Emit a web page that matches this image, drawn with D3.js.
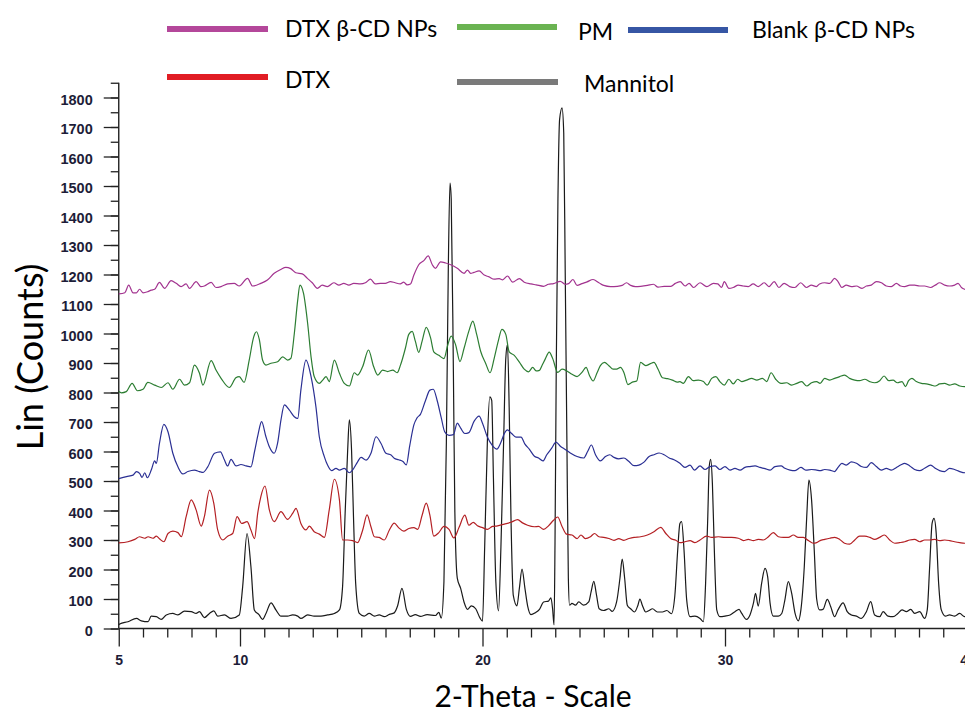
<!DOCTYPE html>
<html>
<head>
<meta charset="utf-8">
<script src="https://cdn.jsdelivr.net/npm/d3@7/dist/d3.min.js"></script>
<style>
  body { margin: 0; background: #fff; }
  svg { display: block; }
</style>
</head>
<body>
<svg id="chart" width="965" height="714"></svg>
<script>
// ---- series (2θ in degrees, intensity in counts, offsets included) ----
const seriesNames = ["DTX β-CD NPs", "PM", "Blank β-CD NPs", "DTX", "Mannitol"];

const dtxCdNps = [[5.0,1134],[5.25,1138],[5.41,1164],[5.59,1138],[5.73,1138],[5.86,1150],[6.0,1138],[6.2,1142],[6.34,1147],[6.48,1150],[6.68,1173],[6.89,1153],[7.16,1179],[7.37,1170],[7.57,1159],[7.78,1168],[7.92,1153],[8.19,1176],[8.39,1159],[8.53,1161],[8.81,1173],[9.01,1156],[9.22,1159],[9.49,1168],[9.76,1170],[9.97,1161],[10.31,1187],[10.52,1161],[10.86,1170],[11.13,1181],[11.41,1204],[11.68,1217],[11.89,1224],[12.09,1220],[12.30,1206],[12.57,1202],[12.78,1187],[12.98,1172],[13.19,1153],[13.39,1164],[13.60,1159],[13.87,1172],[14.08,1164],[14.28,1170],[14.49,1164],[14.69,1170],[14.97,1168],[15.17,1172],[15.38,1184],[15.58,1168],[15.79,1170],[15.99,1170],[16.20,1176],[16.40,1172],[16.61,1168],[16.75,1174],[16.89,1165],[17.03,1168],[17.17,1198],[17.37,1233],[17.58,1247],[17.76,1263],[17.93,1233],[18.06,1221],[18.27,1243],[18.48,1239],[18.69,1233],[18.96,1221],[19.24,1204],[19.38,1215],[19.51,1204],[19.65,1207],[19.86,1212],[20.07,1198],[20.27,1192],[20.48,1184],[20.69,1186],[20.83,1182],[21.03,1195],[21.24,1174],[21.52,1186],[21.72,1174],[22.0,1168],[22.21,1165],[22.52,1160],[22.72,1167],[22.93,1169],[23.21,1177],[23.41,1167],[23.55,1169],[23.73,1183],[23.90,1163],[24.10,1169],[24.31,1175],[24.56,1183],[24.80,1172],[25.0,1163],[25.28,1159],[25.56,1160],[25.76,1163],[25.94,1172],[26.11,1163],[26.31,1159],[26.52,1160],[26.80,1163],[27.05,1167],[27.24,1157],[27.49,1160],[27.77,1160],[27.95,1170],[28.15,1176],[28.36,1161],[28.52,1170],[28.70,1156],[28.97,1172],[29.25,1159],[29.52,1170],[29.70,1168],[29.86,1156],[29.97,1176],[30.16,1153],[30.34,1156],[30.55,1164],[30.75,1161],[30.96,1159],[31.16,1168],[31.37,1159],[31.62,1172],[31.81,1159],[32.03,1176],[32.22,1156],[32.44,1170],[32.67,1159],[32.88,1156],[33.12,1172],[33.36,1156],[33.56,1164],[33.77,1159],[33.90,1168],[34.11,1172],[34.32,1170],[34.52,1187],[34.66,1176],[34.82,1156],[35.0,1164],[35.21,1159],[35.42,1161],[35.65,1153],[35.83,1161],[36.03,1164],[36.24,1176],[36.45,1172],[36.65,1161],[36.86,1159],[37.07,1170],[37.24,1161],[37.41,1159],[37.62,1164],[37.82,1164],[38.03,1161],[38.23,1161],[38.48,1156],[38.67,1164],[38.85,1172],[39.06,1164],[39.26,1161],[39.47,1164],[39.61,1170],[39.75,1156],[39.88,1150],[40.0,1148]];

const pm = [[5.0,803],[5.11,799],[5.31,803],[5.55,831],[5.77,806],[6.0,811],[6.2,834],[6.48,825],[6.75,817],[7.03,833],[7.23,811],[7.51,845],[7.71,825],[7.92,833],[8.12,893],[8.33,865],[8.47,825],[8.81,908],[9.01,876],[9.22,848],[9.56,817],[9.83,850],[9.97,854],[10.17,834],[10.38,910],[10.56,987],[10.68,1006],[10.80,978],[10.93,910],[11.07,893],[11.28,899],[11.55,904],[11.76,921],[11.96,910],[12.10,916],[12.24,1000],[12.38,1113],[12.47,1164],[12.62,1136],[12.79,1034],[12.93,921],[13.06,854],[13.27,831],[13.41,842],[13.55,854],[13.68,837],[13.89,910],[14.10,865],[14.30,831],[14.51,822],[14.71,867],[14.85,859],[15.06,888],[15.30,944],[15.51,888],[15.68,859],[15.88,876],[16.09,871],[16.30,876],[16.48,867],[16.61,891],[16.82,950],[16.96,997],[17.10,1007],[17.23,974],[17.37,936],[17.51,974],[17.68,1021],[17.86,985],[17.99,938],[18.20,926],[18.41,915],[18.57,962],[18.71,991],[18.89,962],[19.07,905],[19.24,950],[19.44,1009],[19.60,1042],[19.76,997],[19.93,938],[20.14,897],[20.31,867],[20.48,915],[20.65,974],[20.80,1014],[20.96,997],[21.10,938],[21.31,926],[21.52,903],[21.72,879],[21.90,870],[22.07,885],[22.21,873],[22.35,875],[22.45,891],[22.59,914],[22.75,937],[22.90,914],[23.10,868],[23.28,879],[23.48,873],[23.69,862],[23.90,854],[24.10,868],[24.27,885],[24.42,856],[24.56,839],[24.73,868],[24.86,891],[25.03,902],[25.21,891],[25.39,879],[25.53,879],[25.69,885],[25.83,868],[26.0,827],[26.18,835],[26.36,839],[26.52,902],[26.73,891],[26.91,897],[27.07,902],[27.24,879],[27.42,850],[27.63,847],[27.83,842],[28.04,835],[28.14,837],[28.28,831],[28.49,854],[28.69,840],[28.90,842],[29.11,837],[29.27,825],[29.45,848],[29.62,854],[29.79,837],[29.97,825],[30.16,845],[30.34,829],[30.52,845],[30.69,837],[30.89,842],[31.10,848],[31.31,842],[31.54,848],[31.72,837],[31.90,867],[32.09,845],[32.31,831],[32.54,833],[32.75,825],[32.96,831],[33.16,837],[33.37,822],[33.57,833],[33.78,837],[33.92,831],[34.11,848],[34.32,842],[34.52,848],[34.73,854],[34.93,859],[35.14,848],[35.35,842],[35.55,840],[35.76,845],[35.97,837],[36.17,833],[36.38,840],[36.56,856],[36.75,840],[36.93,842],[37.11,833],[37.30,837],[37.44,820],[37.57,840],[37.71,848],[37.89,837],[38.10,831],[38.30,829],[38.51,825],[38.67,822],[38.85,829],[39.06,831],[39.26,825],[39.47,829],[39.68,822],[39.88,820],[40.0,822]];

const blankCdNps = [[5.0,508],[5.32,515],[5.59,520],[5.73,532],[5.86,526],[5.96,512],[6.07,528],[6.18,511],[6.34,537],[6.48,568],[6.55,560],[6.68,628],[6.86,692],[7.03,667],[7.23,594],[7.44,548],[7.64,524],[7.85,532],[8.12,537],[8.33,532],[8.47,529],[8.67,548],[8.95,594],[9.19,599],[9.36,571],[9.49,551],[9.63,573],[9.84,551],[10.04,556],[10.25,551],[10.45,548],[10.60,600],[10.75,660],[10.89,701],[11.07,650],[11.21,616],[11.41,594],[11.55,628],[11.69,707],[11.83,758],[12.03,741],[12.24,718],[12.38,712],[12.51,808],[12.72,910],[12.93,854],[13.13,752],[13.27,650],[13.48,582],[13.61,554],[13.78,535],[13.96,543],[14.10,537],[14.30,543],[14.51,528],[14.64,537],[14.85,565],[14.99,580],[15.20,571],[15.40,594],[15.61,650],[15.81,628],[16.02,594],[16.23,588],[16.36,577],[16.54,572],[16.72,566],[16.86,555],[17.0,620],[17.17,690],[17.30,714],[17.44,726],[17.65,773],[17.83,808],[17.97,811],[18.13,773],[18.30,714],[18.44,667],[18.62,655],[18.80,657],[18.96,696],[19.10,679],[19.27,661],[19.44,664],[19.65,702],[19.86,720],[20.0,696],[20.20,649],[20.41,620],[20.59,608],[20.76,631],[20.90,661],[21.03,673],[21.20,661],[21.38,649],[21.59,649],[21.75,625],[21.93,608],[22.14,584],[22.31,578],[22.49,568],[22.65,589],[22.86,612],[23.03,632],[23.21,618],[23.41,607],[23.62,595],[23.90,583],[24.17,578],[24.34,601],[24.49,622],[24.66,589],[24.86,568],[25.07,583],[25.25,589],[25.42,580],[25.62,575],[25.83,578],[26.04,566],[26.25,552],[26.45,554],[26.66,564],[26.87,583],[27.07,589],[27.28,595],[27.49,589],[27.70,578],[27.90,572],[28.14,560],[28.35,546],[28.56,554],[28.74,537],[28.97,551],[29.18,539],[29.38,549],[29.59,551],[29.79,539],[30.0,549],[30.21,537],[30.41,543],[30.62,537],[30.82,546],[31.03,549],[31.24,551],[31.44,546],[31.65,542],[31.86,537],[32.06,549],[32.31,551],[32.47,543],[32.68,537],[32.89,535],[33.13,546],[33.33,537],[33.57,539],[33.78,537],[33.92,535],[34.11,539],[34.32,537],[34.52,532],[34.66,546],[34.82,560],[35.0,554],[35.21,565],[35.42,560],[35.62,549],[35.83,546],[36.03,562],[36.24,549],[36.45,537],[36.65,543],[36.86,537],[37.07,546],[37.24,554],[37.41,560],[37.62,551],[37.82,539],[38.03,535],[38.23,543],[38.48,554],[38.67,543],[38.85,535],[39.06,532],[39.26,543],[39.47,539],[39.68,532],[39.88,528],[40.0,530]];

const dtx = [[5.0,290],[5.38,294],[5.66,302],[5.86,311],[6.07,306],[6.21,311],[6.41,306],[6.55,313],[6.68,304],[6.86,294],[7.03,322],[7.23,330],[7.44,325],[7.58,311],[7.78,379],[7.99,436],[8.19,402],[8.40,347],[8.53,379],[8.74,469],[8.92,424],[9.08,334],[9.29,300],[9.49,313],[9.70,322],[9.88,379],[10.07,356],[10.29,362],[10.45,334],[10.60,305],[10.73,390],[10.86,447],[11.03,483],[11.21,402],[11.41,362],[11.69,396],[11.96,370],[12.17,390],[12.31,407],[12.51,356],[12.72,334],[12.86,347],[13.06,328],[13.27,320],[13.48,309],[13.68,402],[13.89,506],[14.10,436],[14.23,300],[14.44,300],[14.64,298],[14.85,291],[15.06,334],[15.24,385],[15.40,345],[15.54,311],[15.74,309],[15.95,300],[16.16,334],[16.36,357],[16.54,342],[16.75,330],[16.96,339],[17.17,342],[17.33,336],[17.51,384],[17.68,425],[17.83,384],[17.99,313],[18.20,325],[18.41,346],[18.62,336],[18.82,307],[19.03,342],[19.27,384],[19.44,350],[19.62,360],[19.79,348],[20.0,342],[20.20,336],[20.41,346],[20.62,348],[20.90,354],[21.17,360],[21.45,369],[21.65,358],[21.86,350],[22.14,345],[22.31,346],[22.52,336],[22.72,348],[22.93,367],[23.10,378],[23.28,346],[23.46,320],[23.69,317],[23.90,305],[24.06,317],[24.24,305],[24.45,311],[24.62,322],[24.80,311],[25.0,309],[25.21,305],[25.42,299],[25.62,305],[25.83,299],[26.04,305],[26.25,309],[26.52,311],[26.80,317],[27.07,328],[27.35,343],[27.56,322],[27.76,305],[27.97,299],[28.14,291],[28.35,294],[28.56,298],[28.76,291],[28.97,300],[29.24,313],[29.45,309],[29.73,311],[30.0,309],[30.27,309],[30.55,306],[30.76,298],[30.96,302],[31.17,298],[31.37,302],[31.58,300],[31.79,311],[31.99,325],[32.20,311],[32.41,309],[32.61,309],[32.82,317],[33.02,309],[33.23,309],[33.44,298],[33.64,289],[33.78,291],[33.92,298],[34.11,302],[34.32,306],[34.52,309],[34.73,302],[34.93,289],[35.14,286],[35.35,300],[35.55,313],[35.76,313],[35.97,309],[36.17,302],[36.38,309],[36.58,317],[36.79,300],[37.0,289],[37.20,291],[37.41,294],[37.62,300],[37.82,302],[38.03,294],[38.23,300],[38.44,300],[38.65,302],[38.85,298],[39.06,300],[39.26,298],[39.47,294],[39.68,291],[39.88,289],[40.0,290]];

const mannitol = [[5.0,12],[5.04,15],[5.38,23],[5.73,34],[5.93,26],[6.21,23],[6.34,42],[6.55,40],[6.75,31],[6.96,46],[7.23,51],[7.44,46],[7.71,59],[7.99,57],[8.19,51],[8.33,57],[8.53,37],[8.74,51],[8.92,60],[9.08,42],[9.36,46],[9.63,34],[9.97,46],[10.11,142],[10.29,322],[10.45,210],[10.59,63],[10.79,46],[10.93,31],[11.07,51],[11.28,87],[11.48,63],[11.69,42],[11.96,42],[12.17,46],[12.38,42],[12.51,34],[12.79,46],[13.06,42],[13.34,42],[13.61,46],[13.89,51],[14.10,63],[14.23,142],[14.33,379],[14.44,605],[14.51,707],[14.60,605],[14.68,379],[14.77,153],[14.92,51],[15.12,42],[15.33,51],[15.54,42],[15.74,46],[15.95,40],[16.16,48],[16.36,53],[16.50,77],[16.68,136],[16.86,65],[17.03,41],[17.23,47],[17.44,41],[17.72,47],[18.06,44],[18.20,55],[18.30,35],[18.41,159],[18.51,631],[18.59,1221],[18.66,1510],[18.71,1457],[18.80,867],[18.86,395],[18.96,171],[19.10,136],[19.24,89],[19.38,65],[19.54,77],[19.72,67],[19.90,35],[20.0,25],[20.09,277],[20.20,631],[20.30,785],[20.38,773],[20.45,513],[20.55,159],[20.66,60],[20.76,277],[20.87,631],[20.96,915],[21.03,962],[21.10,749],[21.17,395],[21.27,112],[21.42,77],[21.52,136],[21.63,201],[21.75,136],[21.86,77],[22.0,47],[22.17,53],[22.35,65],[22.52,90],[22.72,93],[22.82,104],[22.89,67],[22.95,12],[22.99,288],[23.04,868],[23.11,1448],[23.18,1726],[23.28,1765],[23.35,1680],[23.41,1216],[23.48,636],[23.54,172],[23.59,79],[23.69,85],[23.83,79],[23.97,90],[24.17,79],[24.38,90],[24.48,125],[24.59,160],[24.70,114],[24.81,67],[25.0,61],[25.21,67],[25.35,58],[25.53,90],[25.67,172],[25.76,235],[25.86,172],[25.97,79],[26.11,67],[26.27,56],[26.41,79],[26.49,100],[26.59,79],[26.73,56],[26.87,61],[27.01,67],[27.21,56],[27.42,56],[27.60,61],[27.79,50],[27.93,110],[28.05,266],[28.14,356],[28.21,362],[28.31,266],[28.42,97],[28.56,40],[28.76,42],[28.97,34],[29.11,23],[29.20,153],[29.29,379],[29.35,549],[29.41,573],[29.48,492],[29.56,266],[29.66,63],[29.79,40],[30.0,42],[30.21,46],[30.41,57],[30.58,65],[30.69,51],[30.89,31],[31.03,46],[31.17,85],[31.26,119],[31.37,76],[31.51,153],[31.65,204],[31.76,175],[31.86,85],[31.99,42],[32.20,42],[32.34,51],[32.47,97],[32.61,159],[32.75,119],[32.89,51],[33.02,26],[33.13,63],[33.27,210],[33.37,379],[33.46,503],[33.57,436],[33.68,266],[33.78,100],[33.90,63],[34.04,65],[34.22,99],[34.36,74],[34.52,40],[34.66,63],[34.87,87],[35.04,57],[35.21,46],[35.42,42],[35.62,34],[35.83,57],[36.01,91],[36.17,46],[36.38,40],[36.52,57],[36.72,42],[36.93,40],[37.13,51],[37.30,63],[37.48,57],[37.66,65],[37.82,51],[38.03,57],[38.23,34],[38.34,63],[38.44,210],[38.54,356],[38.62,373],[38.71,322],[38.81,153],[38.92,63],[39.09,42],[39.26,46],[39.47,42],[39.68,51],[39.88,40],[40.0,42]];

// ---- axes ticks ----
const xLabelTicks = [5, 10, 20, 30, 40];
const xMajorTicks = [5, 10, 20, 30];
const yLabelTicks = d3.range(0, 1801, 100);

// ---- colours ----
const traceColors = ["#a2338f", "#2c7d32", "#2a2f93", "#b42024", "#1a1a1a"];
const swatchColors = ["#b4479a", "#6ab352", "#3656a4", "#e11d24", "#7a7a7a"];

const svg = d3.select("#chart");
svg.append("rect").attr("width", 965).attr("height", 714).attr("fill", "#fff");

const x = d3.scaleLinear().domain([5, 40]).range([118.75, 967.5]);
const y = d3.scaleLinear().domain([0, 1800]).range([628.5, 97.5]);

// y axis: minor ticks every 50, labelled ticks every 100
const yMinor = d3.axisLeft(y).tickValues(d3.range(0, 1851, 50)).tickSize(8).tickFormat("");
const yMajor = d3.axisLeft(y).tickValues(yLabelTicks).tickSize(15).tickPadding(11)
  .tickFormat(d3.format("d"));

const gyMinor = svg.append("g").attr("transform", "translate(118.75,0)").call(yMinor);
const gyMajor = svg.append("g").attr("transform", "translate(118.75,0)").call(yMajor);
[gyMinor, gyMajor].forEach(g => {
  g.select(".domain").remove();
  g.selectAll("line").attr("stroke", "#222").attr("stroke-width", 1.3);
});
gyMajor.selectAll("text")
  .attr("dy", "0.45em")
  .attr("fill", "#1d1d38")
  .style("font-family", "'Liberation Sans', Arial, sans-serif")
  .style("font-weight", "bold")
  .style("font-size", "14.5px");

svg.append("line")
  .attr("x1", 118.75).attr("x2", 118.75)
  .attr("y1", y(0)).attr("y2", y(1850))
  .attr("stroke", "#222").attr("stroke-width", 1.4);

// x axis: ticks every degree, longer ones on the labelled values
const xAxis = d3.axisBottom(x).tickValues(d3.range(5, 41, 1)).tickSize(9)
  .tickFormat(d => xLabelTicks.includes(d) ? d : "");
const gx = svg.append("g").attr("transform", `translate(0,${y(0)})`).call(xAxis);
gx.select(".domain").remove();
gx.selectAll("line").attr("stroke", "#222").attr("stroke-width", 1.3)
  .attr("y2", d => xMajorTicks.includes(d) ? 18 : 9);
gx.selectAll("text")
  .attr("y", 27)
  .attr("fill", "#1d1d38")
  .style("font-family", "'Liberation Sans Narrow', 'Liberation Sans', Arial, sans-serif")
  .style("font-weight", "bold")
  .style("font-size", "14px");

svg.append("line")
  .attr("x1", 118.75).attr("x2", 965)
  .attr("y1", y(0)).attr("y2", y(0))
  .attr("stroke", "#222").attr("stroke-width", 1.4);

// ---- traces ----
const line = d3.line()
  .x(d => x(d[0]))
  .y(d => y(d[1]))
  .curve(d3.curveMonotoneX);

const allSeries = [dtxCdNps, pm, blankCdNps, dtx, mannitol];
svg.append("g").selectAll("path")
  .data(allSeries.slice().reverse())
  .join("path")
  .attr("d", line)
  .attr("fill", "none")
  .attr("stroke", (d, i) => traceColors[allSeries.length - 1 - i])
  .attr("stroke-width", 1.2)
  .attr("stroke-linejoin", "round");

// ---- axis titles ----
svg.append("text")
  .attr("transform", "translate(43,357) rotate(-90)")
  .attr("text-anchor", "middle")
  .attr("fill", "#000")
  .style("font-family", "Lato, 'Open Sans', sans-serif")
  .style("font-size", "36px")
  .text("Lin (Counts)");

svg.append("text")
  .attr("x", 533).attr("y", 707)
  .attr("text-anchor", "middle")
  .attr("fill", "#000")
  .style("font-family", "Lato, 'Open Sans', sans-serif")
  .style("font-size", "30px")
  .text("2-Theta - Scale");

// ---- legend ----
const legendLayout = [
  { x1: 167, x2: 268, ly: 29, tx: 285, ty: 37 },
  { x1: 457, x2: 557, ly: 27, tx: 578, ty: 40 },
  { x1: 628, x2: 728, ly: 30, tx: 752, ty: 38 },
  { x1: 167, x2: 268, ly: 77, tx: 285, ty: 88 },
  { x1: 457, x2: 558, ly: 82, tx: 584, ty: 92 }
];
const legend = svg.append("g");
seriesNames.forEach((name, i) => {
  const L = legendLayout[i];
  legend.append("line")
    .attr("x1", L.x1).attr("x2", L.x2).attr("y1", L.ly).attr("y2", L.ly)
    .attr("stroke", swatchColors[i]).attr("stroke-width", 6);
  legend.append("text")
    .attr("x", L.tx).attr("y", L.ty)
    .attr("fill", "#000")
    .style("font-family", "Lato, 'Open Sans', sans-serif")
    .style("font-size", "23px")
    .text(name);
});
</script>
</body>
</html>
